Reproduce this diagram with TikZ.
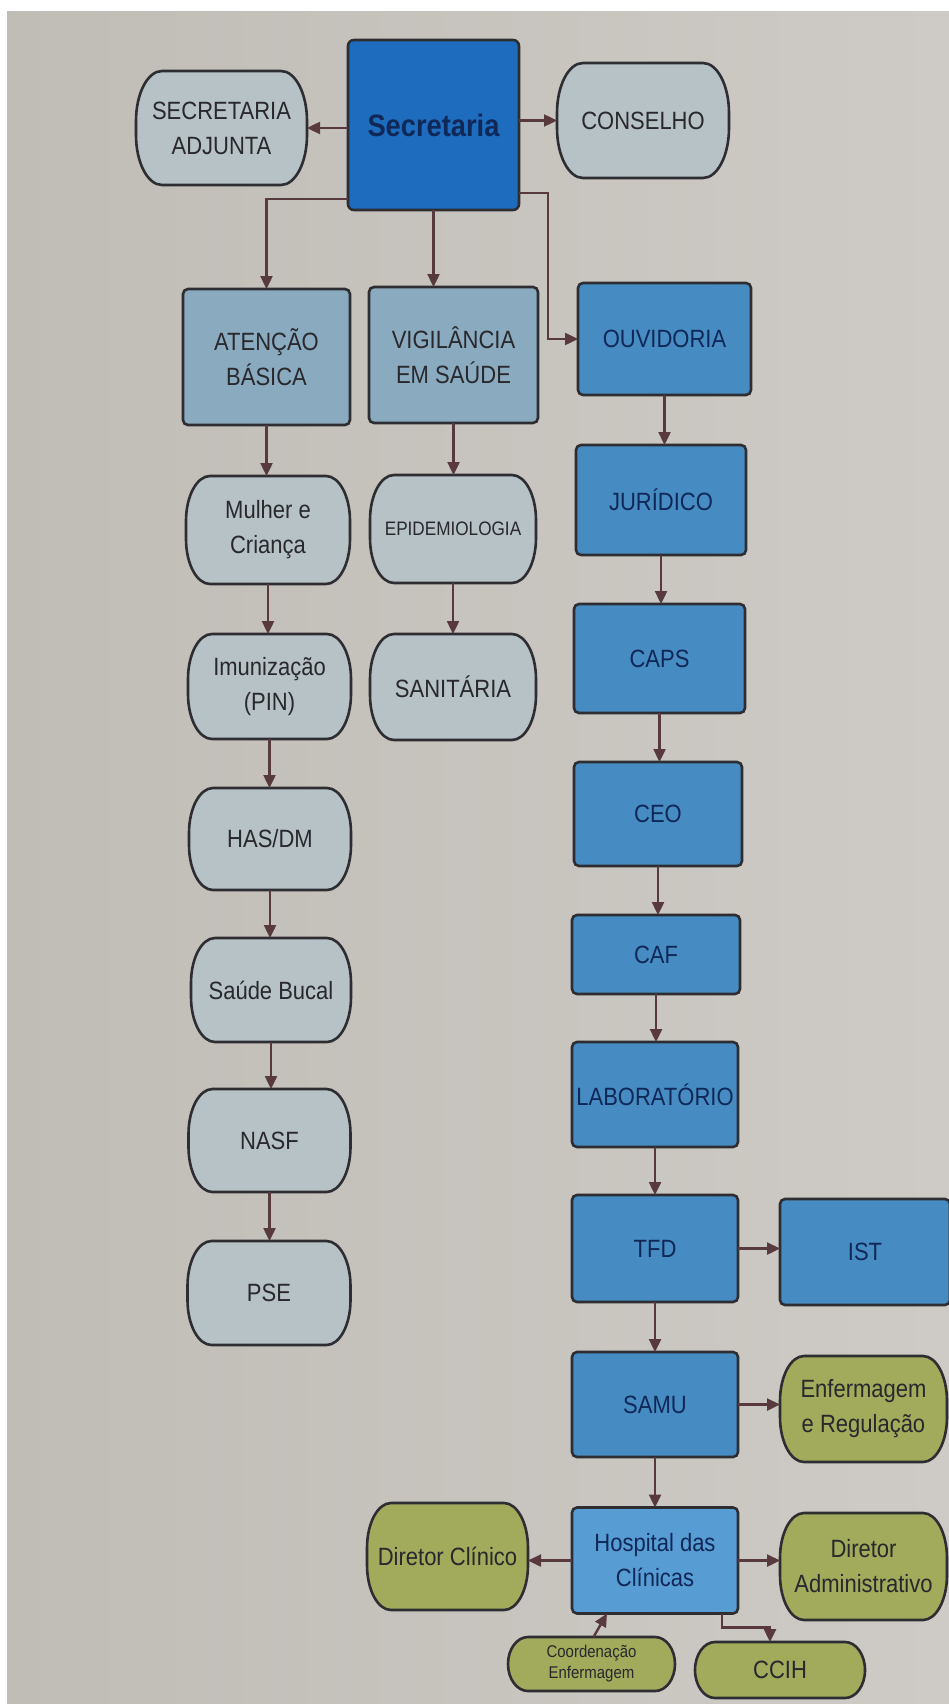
\documentclass[tikz,border=0pt]{standalone}
\usepackage{fontspec}
\setmainfont{Liberation Sans}[FakeStretch=0.88]
\usetikzlibrary{arrows.meta,backgrounds}
\definecolor{bgc}{RGB}{200,196,190}
\definecolor{bgl}{RGB}{192,188,182}
\definecolor{bgr}{RGB}{206,203,198}
\definecolor{secC}{RGB}{30,108,190}
\definecolor{lightC}{RGB}{138,170,192}
\definecolor{blueC}{RGB}{70,140,195}
\definecolor{hospC}{RGB}{88,156,212}
\definecolor{grayC}{RGB}{182,194,198}
\definecolor{greenC}{RGB}{162,170,92}
\definecolor{linec}{RGB}{45,45,50}
\definecolor{arrc}{RGB}{88,58,62}
\definecolor{txtd}{RGB}{40,40,45}
\definecolor{navy}{RGB}{15,40,88}
\tikzset{
  bx/.style={draw=linec, line width=2.6pt, align=center, inner sep=0pt, outer sep=0pt,
    rounded corners=5pt, font=\fontsize{25}{35}\selectfont, text=navy, fill=blueC},
  lightbox/.style={bx, fill=lightC, text=txtd},
  pillnode/.style={align=center, inner sep=0pt, outer sep=0pt, draw=none,
    font=\fontsize{25}{35}\selectfont, text=txtd},
  pillline/.style={draw=linec, line width=2.6pt},
  arr/.style={draw=arrc, line width=2.4pt, -{Triangle[length=13pt,width=12pt]}},
  sz/.style n args={2}{minimum width=#1pt, minimum height=#2pt}
}
\newcommand\pillfill[4]{%
\begin{scope}[on background layer]
\draw[pillline,fill=#2]
 ([xshift=-#3]#1.north east)
 .. controls ([xshift=-0.448*#3]#1.north east) and ([yshift=-0.448*#4]#1.north east) .. ([yshift=-#4]#1.north east)
 -- ([yshift=#4]#1.south east)
 .. controls ([yshift=0.448*#4]#1.south east) and ([xshift=-0.448*#3]#1.south east) .. ([xshift=-#3]#1.south east)
 -- ([xshift=#3]#1.south west)
 .. controls ([xshift=0.448*#3]#1.south west) and ([yshift=0.448*#4]#1.south west) .. ([yshift=#4]#1.south west)
 -- ([yshift=-#4]#1.north west)
 .. controls ([yshift=-0.448*#4]#1.north west) and ([xshift=0.448*#3]#1.north west) .. ([xshift=#3]#1.north west)
 -- cycle;
\end{scope}}
\begin{document}
\begin{tikzpicture}[x=1pt,y=-1pt]
\useasboundingbox (0,0) rectangle (949,1704);
\begin{scope}[on background layer]
\fill[white] (0,0) rectangle (949,1704);
\shade[left color=bgl, right color=bgr] (7,12) rectangle (949,1704);
\end{scope}

% top level
\node[bx, fill=secC, sz={171}{170}, rounded corners=6pt, font=\fontsize{31}{35}\selectfont\bfseries, text=navy] (sec) at (433.5,125) {Secretaria};
\node[pillnode, sz={171}{114}] (adj) at (221.5,128) {SECRETARIA\\ADJUNTA};
\node[pillnode, sz={172}{115}] (con) at (643,120.5) {CONSELHO};
\pillfill{adj}{grayC}{26pt}{50pt}
\pillfill{con}{grayC}{26pt}{50pt}

% second level
\node[lightbox, sz={167}{136}] (atb) at (266.5,357) {ATENÇÃO\\BÁSICA};
\node[lightbox, sz={169}{136}] (vig) at (453.5,355) {VIGILÂNCIA\\EM SAÚDE};
\node[bx, sz={173}{112}] (ouv) at (664.5,339) {OUVIDORIA};

% left column
\node[pillnode, sz={164}{108}] (mul) at (268,530) {Mulher e\\Criança};
\node[pillnode, sz={163}{105}] (imu) at (269.5,686.5) {Imunização\\(PIN)};
\node[pillnode, sz={162}{102}] (has) at (270,839) {HAS/DM};
\node[pillnode, sz={160}{104}] (sbu) at (271,990) {Saúde Bucal};
\node[pillnode, sz={162}{103}] (nasf) at (269.5,1140.5) {NASF};
\node[pillnode, sz={163}{104}] (pse) at (269,1293) {PSE};
\foreach \n in {mul,imu,has,sbu,nasf,pse}{\pillfill{\n}{grayC}{24pt}{45pt}}

% middle column
\node[pillnode, sz={166}{108}, font=\fontsize{19.5}{24}\selectfont] (epi) at (453,529) {EPIDEMIOLOGIA};
\node[pillnode, sz={166}{106}] (san) at (453,687) {SANITÁRIA};
\pillfill{epi}{grayC}{24pt}{45pt}
\pillfill{san}{grayC}{24pt}{45pt}

% right column
\node[bx, sz={170}{110}] (jur) at (661,500) {JURÍDICO};
\node[bx, sz={171}{109}] (caps) at (659.5,658.5) {CAPS};
\node[bx, sz={168}{104}] (ceo) at (658,814) {CEO};
\node[bx, sz={168}{79}] (caf) at (656,954.5) {CAF};
\node[bx, sz={166}{105}] (lab) at (655,1094.5) {LABORATÓRIO};
\node[bx, sz={166}{107}] (tfd) at (655,1248.5) {TFD};
\node[bx, sz={170}{106}] (ist) at (865,1252) {IST};
\node[bx, sz={166}{105}] (samu) at (655,1404.5) {SAMU};
\node[bx, fill=hospC, sz={166}{106}] (hos) at (655,1560.5) {Hospital das\\Clínicas};

% green
\node[pillnode, sz={167}{106}] (enf) at (863.5,1409) {Enfermagem\\e Regulação};
\node[pillnode, sz={161}{107}] (dcl) at (447.5,1556.5) {Diretor Clínico};
\node[pillnode, sz={167}{107}] (dad) at (863.5,1566.5) {Diretor\\Administrativo};
\node[pillnode, sz={167}{54}, font=\fontsize{17}{21}\selectfont] (coo) at (591.5,1664) {Coordenação\\Enfermagem};
\node[pillnode, sz={170}{56}] (cci) at (780,1670) {CCIH};
\foreach \n in {enf,dcl,dad}{\pillfill{\n}{greenC}{24pt}{45pt}}
\pillfill{coo}{greenC}{20pt}{27pt}
\pillfill{cci}{greenC}{20pt}{28pt}

% connectors
\draw[arr] (sec.west |- adj.east) -- (adj.east);
\draw[arr] (sec.east |- con.west) -- (con.west);
\draw[arr] ([yshift=11pt]sec.south west) -| (atb.north);
\draw[arr] (sec.south) -- (sec.south |- vig.north);
\draw[arr] ([yshift=17pt]sec.south east) -| ([xshift=-30pt]ouv.west) -- (ouv.west);

\draw[arr] (atb.south) -- (atb.south |- mul.north);
\draw[arr] (mul.south) -- (mul.south |- imu.north);
\draw[arr] (imu.south) -- (imu.south |- has.north);
\draw[arr] (has.south) -- (has.south |- sbu.north);
\draw[arr] (sbu.south) -- (sbu.south |- nasf.north);
\draw[arr] (nasf.south) -- (nasf.south |- pse.north);

\draw[arr] (vig.south) -- (vig.south |- epi.north);
\draw[arr] (epi.south) -- (epi.south |- san.north);

\draw[arr] (ouv.south) -- (ouv.south |- jur.north);
\draw[arr] (jur.south) -- (jur.south |- caps.north);
\draw[arr] (caps.south) -- (caps.south |- ceo.north);
\draw[arr] (ceo.south) -- (ceo.south |- caf.north);
\draw[arr] (caf.south) -- (caf.south |- lab.north);
\draw[arr] (lab.south) -- (lab.south |- tfd.north);
\draw[arr] (tfd.south) -- (tfd.south |- samu.north);
\draw[arr] (samu.south) -- (samu.south |- hos.north);

\draw[arr] (tfd.east) -- (tfd.east -| ist.west);
\draw[arr] (samu.east) -- (samu.east -| enf.west);
\draw[arr] (hos.west) -- (hos.west -| dcl.east);
\draw[arr] (hos.east) -- (hos.east -| dad.west);
\draw[arr] ([xshift=2pt]coo.north) -- ([xshift=-48pt]hos.south);
\draw[arr] ([xshift=67pt]hos.south) -- ++(0pt,-14pt) -| ([xshift=-10pt]cci.north);
\end{tikzpicture}
\end{document}
